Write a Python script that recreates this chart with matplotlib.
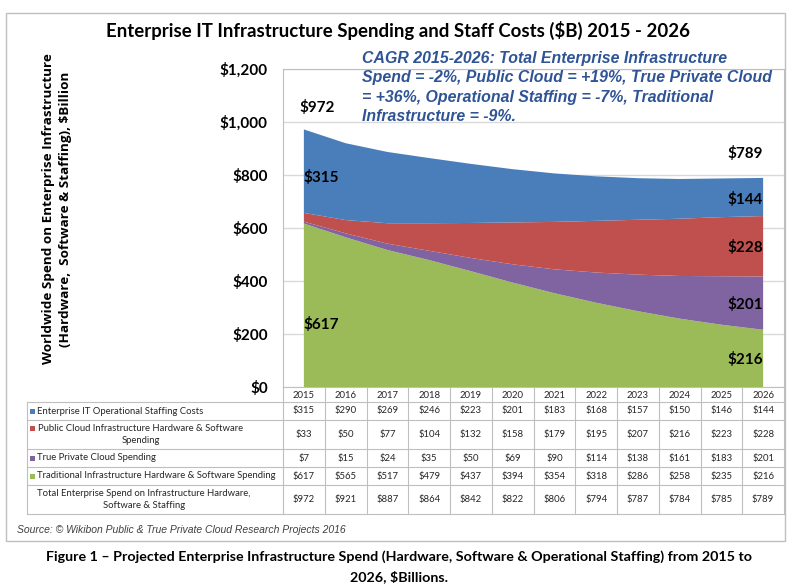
import matplotlib
matplotlib.use('Agg')
import matplotlib.pyplot as plt
from matplotlib.transforms import blended_transform_factory
from matplotlib.patches import Rectangle

# ---------------- data ----------------
years = [2015, 2016, 2017, 2018, 2019, 2020, 2021, 2022, 2023, 2024, 2025, 2026]
staffing = [315, 290, 269, 246, 223, 201, 183, 168, 157, 150, 146, 144]
public_cloud = [33, 50, 77, 104, 132, 158, 179, 195, 207, 216, 223, 228]
private_cloud = [7, 15, 24, 35, 50, 69, 90, 114, 138, 161, 183, 201]
traditional = [617, 565, 517, 479, 437, 394, 354, 318, 286, 258, 235, 216]
totals = [972, 921, 887, 864, 842, 822, 806, 794, 787, 784, 785, 789]
row_labels = [
    "Enterprise IT Operational Staffing Costs",
    "Public Cloud Infrastructure Hardware & Software\nSpending",
    "True Private Cloud Spending",
    "Traditional Infrastructure Hardware & Software Spending",
    "Total Enterprise Spend on Infrastructure Hardware,\nSoftware & Staffing",
]
y_ticks = [0, 200, 400, 600, 800, 1000, 1200]
y_tick_labels = ["$0", "$200", "$400", "$600", "$800", "$1,000", "$1,200"]

title = "Enterprise IT Infrastructure Spending and Staff Costs ($B) 2015 - 2026"
cagr_text = ("CAGR 2015-2026: Total Enterprise Infrastructure\n"
             "Spend = -2%, Public Cloud = +19%, True Private Cloud\n"
             "= +36%, Operational Staffing = -7%, Traditional\n"
             "Infrastructure = -9%.")
ylabel = "Worldwide Spend on Enterprise Infrastructure\n(Hardware,  Software & Staffing), $Billion"
source = "Source: \u00a9 Wikibon Public & True Private Cloud Research Projects 2016"
caption1 = "Figure 1 \u2013 Projected Enterprise Infrastructure Spend (Hardware, Software & Operational Staffing) from 2015 to"
caption2 = "2026, $Billions."

c_blue = "#4A7EBB"
c_red = "#C0504D"
c_purple = "#8064A2"
c_green = "#9BBB59"
c_grid = "#D9D9D9"
c_line = "#BFBFBF"

CAL = ["Lato", "DejaVu Sans"]

W, H = 798, 587
fig = plt.figure(figsize=(W / 100, H / 100), dpi=100)
fig.patch.set_facecolor("white")

bg = fig.add_axes([0, 0, 1, 1], zorder=0)
bg.set_xlim(0, W)
bg.set_ylim(H, 0)
bg.axis("off")

# outer frame
bg.add_patch(Rectangle((6, 13), 779, 528, fill=False, edgecolor=c_line, lw=1.0))

# ---------------- main plot ----------------
L, R, T, B = 283, 784, 69, 387
ax = fig.add_axes([L / W, 1 - B / H, (R - L) / W, (B - T) / H], zorder=1)
x = list(range(len(years)))
ax.stackplot(x, traditional, private_cloud, public_cloud, staffing,
             colors=[c_green, c_purple, c_red, c_blue], lw=0, zorder=2)
ax.set_xlim(-0.5, len(years) - 0.5)
ax.set_ylim(0, 1200)
ax.set_yticks(y_ticks)
ax.set_yticklabels(y_tick_labels, fontfamily=CAL, fontweight="bold", fontsize=11)
ax.tick_params(axis="y", length=0, pad=11)
ax.set_xticks([])
ax.grid(axis="y", color=c_grid, lw=1, zorder=0)
ax.set_axisbelow(True)
for s in ["left", "top", "right"]:
    ax.spines[s].set_color(c_line)
ax.spines["bottom"].set_visible(False)

# data labels
lab_kw = dict(fontfamily=CAL, fontweight="bold", fontsize=11, color="black", zorder=5)
ax.text(-0.1, 1053, f"${totals[0]}", ha="left", va="center", **lab_kw)
ax.text(0.0, 789, f"${staffing[0]}", ha="left", va="center", **lab_kw)
ax.text(0.0, 234, f"${traditional[0]}", ha="left", va="center", **lab_kw)
ax.text(11.0, 883, f"${totals[-1]}", ha="right", va="center", **lab_kw)
ax.text(11.0, 706, f"${staffing[-1]}", ha="right", va="center", **lab_kw)
ax.text(11.0, 528, f"${public_cloud[-1]}", ha="right", va="center", **lab_kw)
ax.text(11.0, 313, f"${private_cloud[-1]}", ha="right", va="center", **lab_kw)
ax.text(11.0, 102, f"${traditional[-1]}", ha="right", va="center", **lab_kw)

# title, CAGR box, y label
bg.text(398, 30, title, ha="center", va="center", fontfamily=CAL,
        fontweight="bold", fontsize=13.4, color="black")
fig.text(362 / W, 1 - 51 / H, cagr_text, ha="left", va="top",
         fontfamily=["Liberation Sans", "DejaVu Sans"], fontweight="bold",
         fontstyle="italic", fontsize=11.4, color="#2F5496", linespacing=1.36,
         zorder=10)
bg.text(57, 209, ylabel, rotation=90, ha="center", va="center",
        fontfamily=["Open Sans", "DejaVu Sans"], fontweight="bold",
        fontsize=9.7, color="black", multialignment="center", linespacing=1.35)

# ---------------- table ----------------
tr = blended_transform_factory(ax.transData, bg.transData)
row_bounds = [402, 420, 449, 467, 485, 514]
tab_left = 27
tkw = dict(fontfamily=CAL, fontsize=6.8, color="#262626")

# year header row
for i, yr in enumerate(years):
    bg.text(i, 395, str(yr), ha="center", va="center", transform=tr, **tkw)
# vertical column dividers
for k in range(len(years) + 1):
    bg.plot([k - 0.5, k - 0.5], [387, row_bounds[-1]], color=c_line, lw=0.8,
            transform=tr, clip_on=False)
bg.plot([L, R], [387, 387], color=c_line, lw=0.8)
for yb in row_bounds:
    bg.plot([tab_left, R], [yb, yb], color=c_line, lw=0.8)
bg.plot([tab_left, tab_left], [row_bounds[0], row_bounds[-1]], color=c_line, lw=0.8)

rows = [staffing, public_cloud, private_cloud, traditional, totals]
sq_colors = [c_blue, c_red, c_purple, c_green, None]
for r, vals in enumerate(rows):
    y0, y1 = row_bounds[r], row_bounds[r + 1]
    yc = (y0 + y1) / 2
    for i, v in enumerate(vals):
        bg.text(i, yc, f"${v}", ha="center", va="center", transform=tr, **tkw)
    lbl = row_labels[r]
    if "\n" in lbl:
        cx = 141 if r == 1 else 144
        bg.text(cx, yc, lbl, ha="center", va="center", multialignment="center",
                linespacing=1.3, **tkw)
        sq_y = yc - 6
    else:
        bg.text(37, yc, lbl, ha="left", va="center", **tkw)
        sq_y = yc
    if sq_colors[r]:
        bg.add_patch(Rectangle((29.5, sq_y - 2.5), 5, 5, color=sq_colors[r], lw=0))

# source and caption
bg.text(17, 530, source, ha="left", va="center",
        fontfamily=["Liberation Sans", "DejaVu Sans"], fontstyle="italic",
        fontsize=7.5, color="#404040")
bg.text(399, 557, caption1, ha="center", va="center", fontfamily=CAL,
        fontweight="bold", fontsize=10.3, color="black")
bg.text(399, 577, caption2, ha="center", va="center", fontfamily=CAL,
        fontweight="bold", fontsize=10.3, color="black")

fig.savefig("out.png", dpi=100)
